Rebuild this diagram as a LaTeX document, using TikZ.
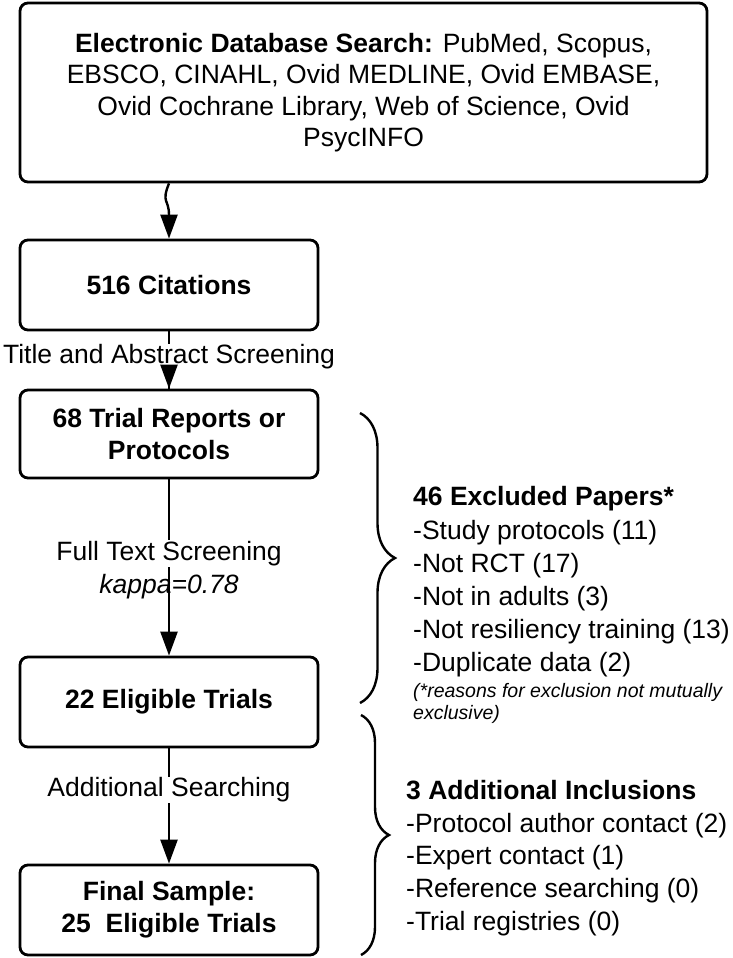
\documentclass[tikz,border=0pt]{standalone}
\usepackage{fontspec}
\setmainfont{Liberation Sans}
\usetikzlibrary{arrows.meta,decorations.pathreplacing}

\begin{document}
\begin{tikzpicture}[x=1pt, y=-1pt,
        font=\fontsize{26.5}{33}\selectfont,
        stage/.style={draw, line width=2.8pt, rounded corners=8pt, minimum width=298pt, minimum height=90pt, align=center, inner sep=0pt, font=\fontsize{26.5}{32}\selectfont\bfseries},
        flow/.style={line width=2.4pt, -{Triangle[length=24pt, width=17pt]}},
        gap/.style={fill=white, inner sep=1pt},
        bracket/.style={line width=2.4pt, decorate, decoration={brace, amplitude=#1}},
        listing/.style={anchor=west, align=left, inner sep=0pt}]
        \useasboundingbox (0, 0) rectangle (733, 958);
        \node[stage, minimum width=687pt, minimum height=179pt, font=\fontsize{26.5}{31.5}\selectfont] (search) at (363.5, 92.5) {\textbf{Electronic Database Search:} PubMed, Scopus,\\EBSCO, CINAHL, Ovid MEDLINE, Ovid EMBASE,\\Ovid Cochrane Library, Web of Science, Ovid\\PsycINFO};
        \node[stage] (cites) at (169, 285) {516 Citations};
        \node[stage, minimum height=88pt] (reports) at (169, 434) {68 Trial Reports or\\Protocols};
        \node[stage] (eligible) at (169, 702) {22 Eligible Trials};
        \node[stage] (final) at (169, 910) {Final Sample:\\25\ \ Eligible Trials};
        \draw[flow] (search.south -| cites.north) .. controls +(-8, 20) and +(0, -40) .. (cites.north);
        % label sits over the line, the arrow tip over the label
        \draw[line width=2.4pt] (cites) -- (reports) node[gap, pos=0.45] (tas) {Title and Abstract Screening};
        \draw[flow] ([yshift=4pt]tas.south -| reports.north) -- (reports.north);
        \draw[flow] (reports) -- (eligible) node[gap, pos=0.42] (fts) {Full Text Screening} node[pos=0.61, font=\fontsize{26.5}{33}\selectfont\itshape] (kappa) {kappa=0.78};
        \draw[flow] (eligible) -- (final) node[gap, pos=0.36] (more) {Additional Searching};
        \draw[bracket=35pt] (360, 413) -- (360, 703);
        \draw[bracket=28pt] (361, 715) -- (361, 955);
        \node[listing, font=\fontsize{26.5}{33.2}\selectfont] (excluded) at (413, 582) {\textbf{46 Excluded Papers*}\\-Study protocols (11)\\-Not RCT (17)\\-Not in adults (3)\\-Not resiliency training (13)\\-Duplicate data (2)};
        \node[listing, font=\fontsize{19.5}{22}\selectfont\itshape] (note) at (413, 703) {(*reasons for exclusion not mutually\\exclusive)};
        \node[listing, font=\fontsize{26.5}{32.75}\selectfont] (included) at (406, 858) {\textbf{3 Additional Inclusions}\\-Protocol author contact (2)\\-Expert contact (1)\\-Reference searching (0)\\-Trial registries (0)};
    \end{tikzpicture}
\end{document}
